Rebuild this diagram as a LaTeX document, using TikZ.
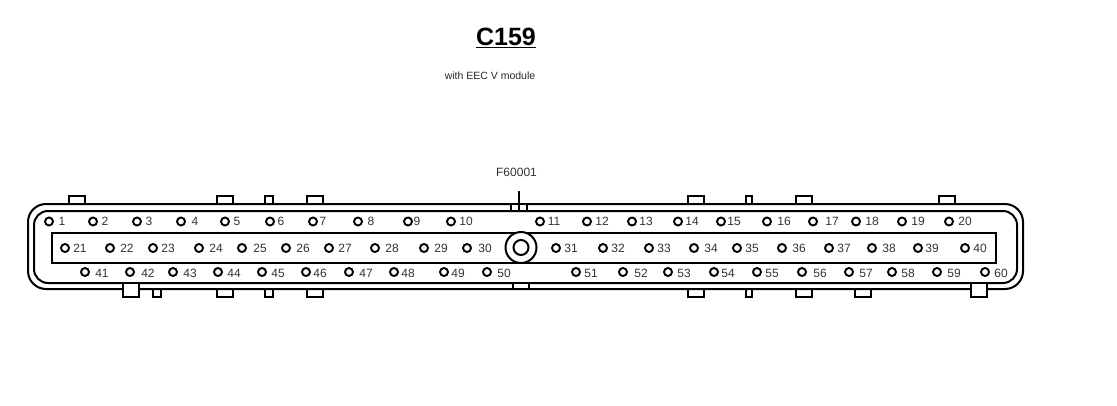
\documentclass[tikz,border=0pt]{standalone}
\usepackage{fontspec}
\setmainfont{Liberation Sans}
\tikzset{
  wall/.style={draw=black,line width=2pt,fill=white},
  tabbox/.style={draw=black,line width=1.8pt,fill=white},
  pin/.style={circle,draw=black,line width=1.9pt,fill=white,inner sep=0pt,minimum size=8pt},
  pinlabel/.style={inner sep=0pt,font=\fontsize{12}{12}\selectfont,text=black!80},
}
\begin{document}
\begin{tikzpicture}[x=1pt,y=-1pt]
\useasboundingbox (0,0) rectangle (1117,405);
% tabs behind the shell
\foreach \a/\b in {69/85,217/233,265/273,307/323,688/704,746/752,796/812,939/955}
  \draw[tabbox] (\a,204) rectangle (\b,196);
\foreach \a/\b in {153/161,217/233,265/273,307/323,688/704,746/752,796/812,855/871}
  \draw[tabbox] (\a,289) rectangle (\b,297);
% shell
\draw[wall,rounded corners=18pt] (28,204) rectangle (1023,289);
\draw[wall,rounded corners=14pt] (34,211) rectangle (1017,283);
\draw[wall] (52,233) rectangle (996,263);
% centre keys
\draw[tabbox] (511,204) rectangle (527,211);
\draw[tabbox] (513,283) rectangle (529,289);
\draw[tabbox] (123,283) rectangle (139,297);
\draw[tabbox] (971,283) rectangle (987,297);
% centre post
\node[circle,draw=black,line width=2pt,fill=white,inner sep=0pt,minimum size=31pt] (post) at (521,247.5) {};
\node[circle,draw=black,line width=2pt,fill=white,inner sep=0pt,minimum size=15pt] (bore) at (521,247.5) {};
% pins: number / pin x / label x
\foreach \n/\p/\l in {1/49/62,2/93/105,3/137/149,4/181/195,5/225/237,6/270/281,7/313/323,8/358/371,9/408/417,10/451/466,11/540/554,12/587/602,13/632/646,14/678/692,15/721/734,16/767/784,17/813/832,18/856/872,19/902/918,20/949/965}{
  \node[pin] (p\n) at (\p,221.5) {};
  \node[pinlabel] (t\n) at (\l,221.5) {\n};
}
\foreach \n/\p/\l in {21/65/80,22/110/127,23/153/168,24/199/216,25/242/260,26/286/303,27/329/345,28/375/392,29/424/441,30/467/485,31/556/571,32/603/618,33/649/664,34/694/711,35/737/752,36/782/799,37/829/844,38/872/889,39/918/932,40/965/980}{
  \node[pin] (p\n) at (\p,248) {};
  \node[pinlabel] (t\n) at (\l,248) {\n};
}
\foreach \n/\p/\l in {41/85/102,42/130/148,43/173/190,44/218/234,45/262/278,46/306/320,47/349/366,48/394/408,49/444/458,50/487/504,51/576/591,52/623/641,53/668/684,54/714/728,55/757/772,56/802/820,57/849/866,58/892/908,59/937/954,60/985/1001}{
  \node[pin] (p\n) at (\p,272) {};
  \node[pinlabel] (t\n) at (\l,273) {\n};
}
% titles
\node[inner sep=0pt,font=\fontsize{25}{25}\selectfont\bfseries] (title) at (506,37.5) {\underline{C159}};
\node[inner sep=0pt,font=\fontsize{10.5}{10.5}\selectfont,text=black!85] (sub) at (490,76) {with EEC V module};
\node[inner sep=0pt,font=\fontsize{12}{12}\selectfont,text=black!80] (ref) at (516.5,172.5) {F60001};
\coordinate (stemend) at (519,211);
\coordinate (stemtop) at (519,191);
\draw[black,line width=1.8pt] (stemtop) -- (stemend);
\end{tikzpicture}
\end{document}
